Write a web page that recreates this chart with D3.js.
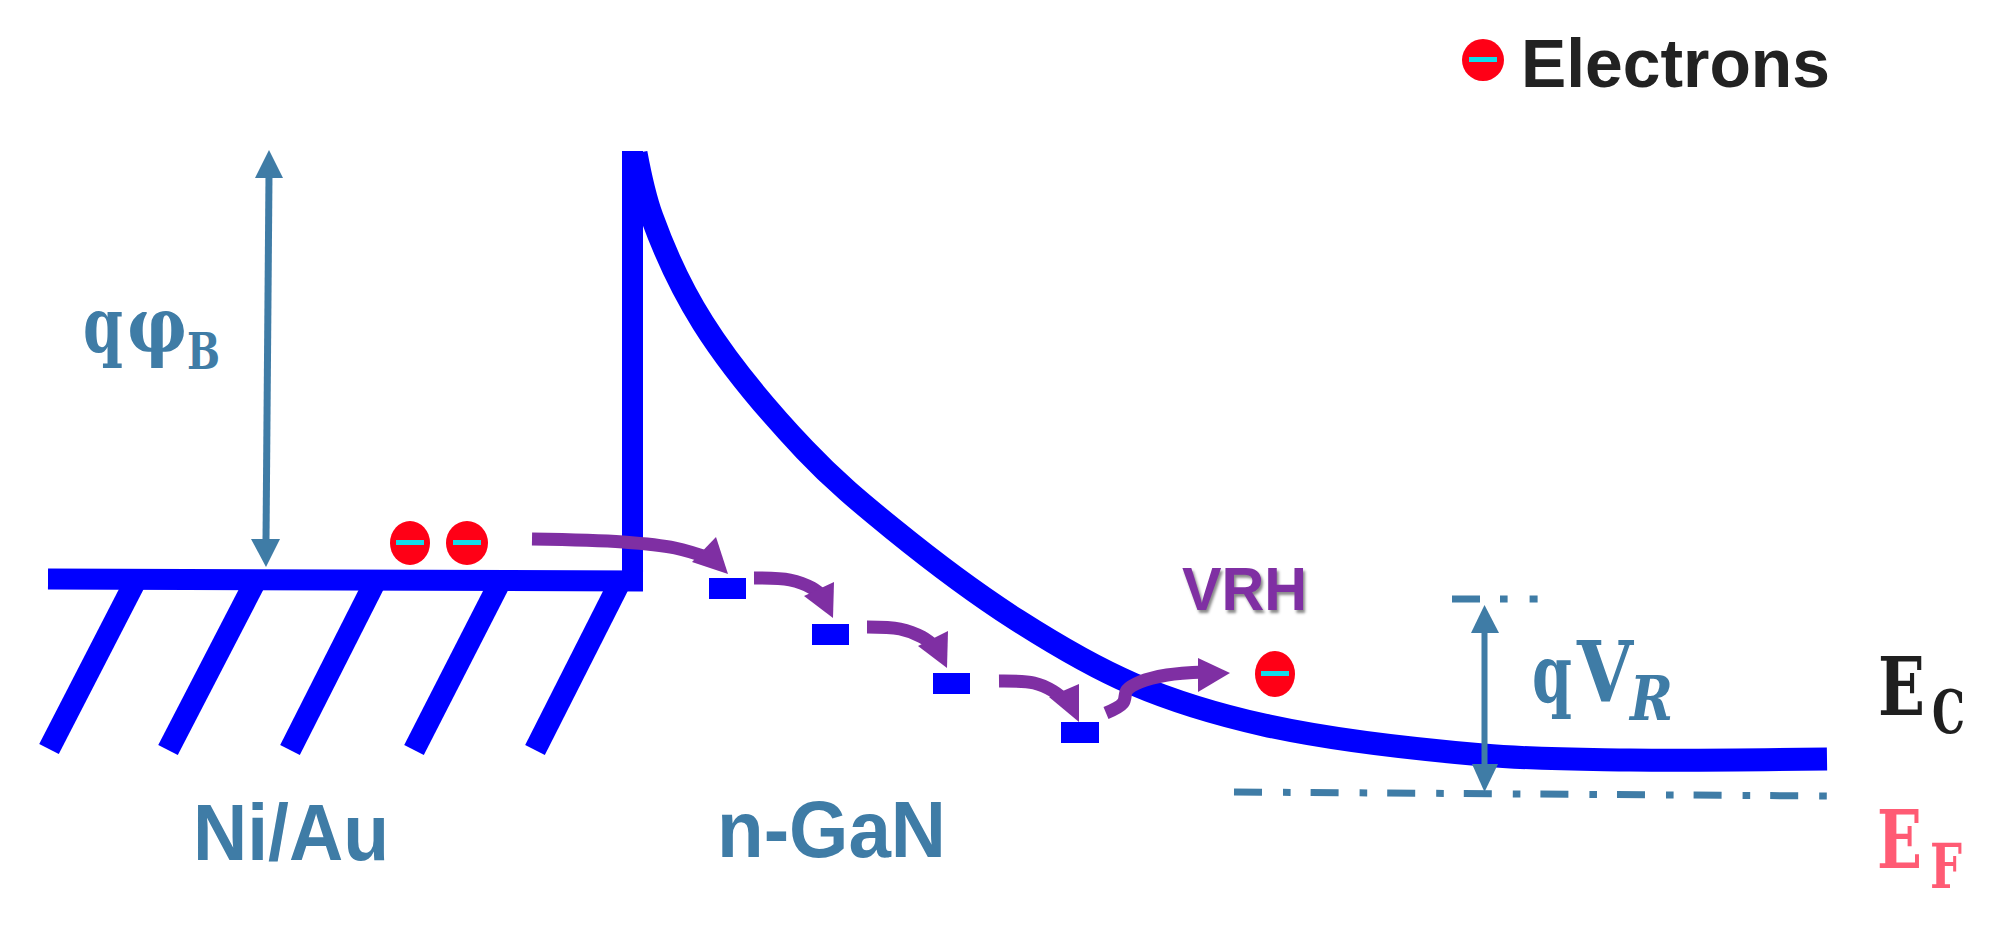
<!DOCTYPE html>
<html>
<head>
<meta charset="utf-8">
<script src="https://cdn.jsdelivr.net/npm/d3@7"></script>
<style>
  html, body { margin: 0; background: #fff; }
  svg { display: block; }
  .vrh { text-shadow: 2px 3px 3px #8a8a8a; }
</style>
</head>
<body>
<svg id="chart" width="1994" height="925"></svg>
<script>
// all readings are [position, energy] in reference pixels, energy counted up from the bottom edge
const width = 1994;
const height = 925;

const metalLevel = [[48, 346], [643, 344]];
const barrierWall = [[632.5, 774], [632.5, 334]];
const hatchTops = [[136, 345], [256, 345], [376, 345], [501, 345], [621, 345]];
const hatchBottoms = [[49, 176], [168, 175], [290, 175], [414, 175], [535, 175]];

const bandEdge = [
  [636, 772], [652, 708], [703, 602], [805, 475], [893, 396], [1017, 305],
  [1133, 241], [1264, 200], [1483, 170], [1630, 165], [1827, 166],
];

// left, right, top energy, bottom energy
const traps = [[709, 746, 347, 326], [812, 849, 301, 280], [933, 970, 252, 231], [1061, 1099, 203, 182]];
// position, energy, half width, half height
const electrons = [[410, 382, 20, 22], [467, 382, 21, 22], [1275, 251, 20, 23], [1483, 865, 21, 21]];

const hopTails = [
  [[532, 386], [623, 383], [675, 377], [712, 366]],
  [[754, 347], [790, 345], [812, 337], [826, 326]],
  [[867, 298], [900, 296], [922, 288], [938, 276]],
  [[999, 244], [1034, 242], [1053, 234], [1068, 222]],
  [[1106, 212], [1123, 222], [1127, 235], [1140, 243], [1167, 250], [1205, 253]],
];
const hopHeads = [
  [[728, 351], [716, 388], [692, 363]],
  [[833, 307], [834, 343], [804, 329]],
  [[947, 257], [948, 294], [918, 279]],
  [[1079, 203], [1079, 241], [1049, 228]],
  [[1230, 252], [1198, 267], [1198, 233]],
];

const barrierArrow = [[269, 750], [266, 384]];
const barrierHeads = [
  [[269, 775], [255, 747], [283, 747]],
  [[266, 358], [251, 386], [280, 386]],
];
const bendArrow = [[1484.5, 295], [1484.5, 158]];
const bendHeads = [
  [[1484.5, 320], [1471, 292], [1499, 292]],
  [[1484.5, 133], [1472, 161], [1498, 161]],
];
const fermiLevel = [[1234, 133], [1827, 129]];
const bandRef = [[1452, 326], [1538, 326]];

// one text per group, subscripts are runs inside it
const labelGroups = [[0], [1], [2], [3, 4, 5], [6, 7, 8], [9, 10], [11, 12], [13]];
const labelTexts = ["Electrons", "Ni/Au", "n-GaN", "q", "φ", "B", "q", "V", "R", "E", "C", "E", "F", "VRH"];
const labelX = [1521, 193, 717, 83, 127, 187, 1532, 1577, 1630, 1878, 1932, 1877, 1930, 1182];
const labelY = [838, 65, 68, 573, 573, 556, 223, 223, 205, 210, 192, 57, 37, 315];
const labelWidths = [309, 196, 229, 40, 60, 33, 40, 56, 43, 47, 33, 45, 32, 125];
const labelSizes = [68, 80, 80, 77, 77, 51, 80, 84, 62, 81, 59, 81, 62, 61];

const blue = "#0000ff";
const purple = "#7f2fa3";
const steel = "#3f7ca6";
const sans = "Liberation Sans";
const serif = "DejaVu Serif";
const labelColours = ["#222222", steel, steel, steel, steel, steel, steel, steel, steel, "#1f1f1f", "#1f1f1f", "#ff5b74", "#ff5b74", purple];
const labelFonts = [sans, sans, sans, serif, serif, serif, serif, serif, serif, serif, serif, serif, serif, sans];
const labelStyles = ["normal", "normal", "normal", "normal", "normal", "normal", "normal", "normal", "italic", "normal", "normal", "normal", "normal", "normal"];

const x = d3.scaleLinear().domain([0, width]).range([0, width]);
const y = d3.scaleLinear().domain([0, height]).range([height, 0]);

const line = d3.line().x((d) => x(d[0])).y((d) => y(d[1]));
const smooth = d3.line().x((d) => x(d[0])).y((d) => y(d[1])).curve(d3.curveCatmullRom.alpha(0.5));

const svg = d3.select("#chart");

// Metal side
svg.append("path").attr("d", line(metalLevel)).attr("fill", "none").attr("stroke", blue).attr("stroke-width", 21);
svg.append("path").attr("d", line(barrierWall)).attr("fill", "none").attr("stroke", blue).attr("stroke-width", 21);

svg.selectAll(".hatch")
  .data(hatchTops)
  .enter()
  .append("path")
  .attr("class", "hatch")
  .attr("d", (d, i) => line([d, hatchBottoms[i]]))
  .attr("stroke", blue)
  .attr("stroke-width", 22);

// Conduction band
svg.append("path")
  .attr("d", smooth(bandEdge))
  .attr("fill", "none")
  .attr("stroke", blue)
  .attr("stroke-width", 23);

// Traps
svg.selectAll(".trap")
  .data(traps)
  .enter()
  .append("rect")
  .attr("class", "trap")
  .attr("x", (d) => x(d[0]))
  .attr("width", (d) => x(d[1]) - x(d[0]))
  .attr("y", (d) => y(d[2]))
  .attr("height", (d) => y(d[3]) - y(d[2]))
  .attr("fill", blue);

// Hopping arrows
svg.selectAll(".hopTail")
  .data(hopTails)
  .enter()
  .append("path")
  .attr("class", "hopTail")
  .attr("d", smooth)
  .attr("fill", "none")
  .attr("stroke", purple)
  .attr("stroke-width", 13);

svg.selectAll(".hopHead")
  .data(hopHeads)
  .enter()
  .append("path")
  .attr("class", "hopHead")
  .attr("d", (d) => line(d) + "Z")
  .attr("fill", purple);

// Barrier height and band bending arrows
svg.append("path").attr("d", line(barrierArrow)).attr("stroke", steel).attr("stroke-width", 7);
svg.append("path").attr("d", line(bendArrow)).attr("stroke", steel).attr("stroke-width", 6);
svg.selectAll(".dimHead")
  .data(barrierHeads.concat(bendHeads))
  .enter()
  .append("path")
  .attr("class", "dimHead")
  .attr("d", (d) => line(d) + "Z")
  .attr("fill", steel);

// Dash dot levels
svg.append("path")
  .attr("d", line(fermiLevel))
  .attr("stroke", steel)
  .attr("stroke-width", 7)
  .attr("stroke-dasharray", "28 21 7.6 20");
svg.append("path")
  .attr("d", line(bandRef))
  .attr("stroke", steel)
  .attr("stroke-width", 7)
  .attr("stroke-dasharray", "28 20 7.6 22 8 100");

// Electrons
const electron = svg.selectAll(".electron")
  .data(electrons)
  .enter()
  .append("g")
  .attr("class", "electron");
electron.append("ellipse")
  .attr("cx", (d) => x(d[0]))
  .attr("cy", (d) => y(d[1]))
  .attr("rx", (d) => d[2])
  .attr("ry", (d) => d[3])
  .attr("fill", "#ff0016");
electron.append("rect")
  .attr("x", (d) => x(d[0]) - 14)
  .attr("y", (d) => y(d[1]) - 3)
  .attr("width", 28)
  .attr("height", 5)
  .attr("fill", "#12dcec");

// Labels
svg.selectAll(".label")
  .data(labelGroups)
  .enter()
  .append("text")
  .attr("class", (d) => (labelTexts[d[0]] === "VRH" ? "label vrh" : "label"))
  .attr("font-weight", 700)
  .selectAll("tspan")
  .data((d) => d)
  .enter()
  .append("tspan")
  .attr("x", (i) => x(labelX[i]))
  .attr("y", (i) => y(labelY[i]))
  .attr("font-size", (i) => labelSizes[i])
  .attr("font-family", (i) => labelFonts[i])
  .attr("font-style", (i) => labelStyles[i])
  .attr("textLength", (i) => labelWidths[i])
  .attr("lengthAdjust", "spacingAndGlyphs")
  .attr("fill", (i) => labelColours[i])
  .text((i) => labelTexts[i]);
</script>
</body>
</html>
